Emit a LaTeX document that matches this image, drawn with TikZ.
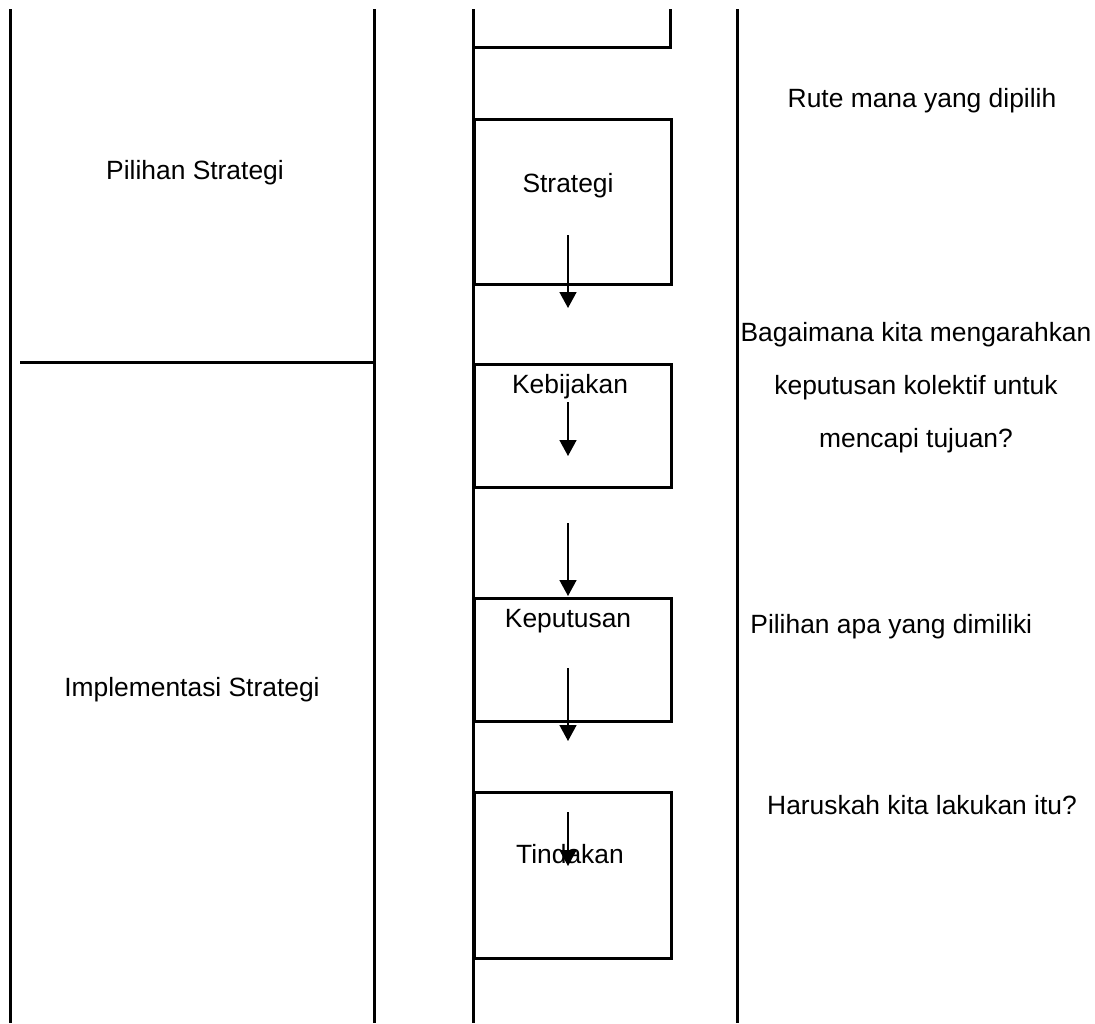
\documentclass[tikz,border=0pt]{standalone}
\usepackage{fontspec}
\setmainfont{Liberation Sans}
\usetikzlibrary{arrows.meta,positioning}
\tikzset{
  lane/.style={line width=1.5pt},
  stepbox/.style={draw,line width=1.5pt,rectangle,inner sep=0pt,anchor=north west,minimum width=98.5pt},
  flow/.style={line width=0.75pt,-{Triangle[width=8.5pt,length=8pt]}},
  txt/.style={font=\fontsize{13.2}{26.5}\selectfont,inner sep=0pt,anchor=base}
}
\begin{document}
\begin{tikzpicture}[x=0.5pt,y=-0.5pt]
        \useasboundingbox (0,0) rectangle (1095,1023);
        \coordinate (t1) at (10,9);
        \coordinate (t2) at (374,9);
        \coordinate (t3) at (473,9);
        \coordinate (t4) at (737,9);
        \coordinate (b1) at (10,1023);
        \coordinate (b2) at (374,1023);
        \coordinate (b3) at (473,1023);
        \coordinate (b4) at (737,1023);
        \coordinate (h1) at (20,362);
        \coordinate (h2) at (374,362);
        %Lanes
        \draw[lane] (t1) -- (b1);
        \draw[lane] (t2) -- (b2);
        \draw[lane] (t3) -- (b3);
        \draw[lane] (t4) -- (b4);
        \draw[lane] (h1) -- (h2);
        \draw[lane] (473,47) -- (670,47) -- (670,9);
        %Boxes
        \node[stepbox,minimum height=82.5pt] (strategi) at (473,118) {};
        \node[stepbox,minimum height=61.5pt] (kebijakan) at (473,363) {};
        \node[stepbox,minimum height=61.5pt] (keputusan) at (473,597) {};
        \node[stepbox,minimum height=83pt] (tindakan) at (473,791) {};
        %Box texts
        \node[txt] (lstrategi) at (568,192) {Strategi};
        \node[txt] (lkebijakan) at (570,393) {Kebijakan};
        \node[txt] (lkeputusan) at (568,627) {Keputusan};
        \node[txt] (ltindakan) at (570,863) {Tindakan};
        %Arrows
        \coordinate (a1) at (568,235);
        \coordinate (a2) at (568,308);
        \coordinate (a3) at (568,402);
        \coordinate (a4) at (568,456);
        \coordinate (a5) at (568,523);
        \coordinate (a6) at (568,596);
        \coordinate (a7) at (568,668);
        \coordinate (a8) at (568,741);
        \coordinate (a9) at (568,812);
        \coordinate (a10) at (568,866);
        \draw[flow] (a1) -- (a2);
        \draw[flow] (a3) -- (a4);
        \draw[flow] (a5) -- (a6);
        \draw[flow] (a7) -- (a8);
        \draw[flow] (a9) -- (a10);
        %Stages
        \node[txt] (pilihan) at (195,179) {Pilihan Strategi};
        \node[txt] (implementasi) at (192,696) {Implementasi Strategi};
        %Questions
        \node[txt] (rute) at (922,107) {Rute mana yang dipilih};
        \node[txt,align=center] (bagaimana) at (916,447) {Bagaimana kita mengarahkan\\keputusan kolektif untuk\\mencapi tujuan?};
        \node[txt,anchor=base west] (apa) at (750,633) {Pilihan apa yang dimiliki};
        \node[txt] (haruskah) at (922,814) {Haruskah kita lakukan itu?};
\end{tikzpicture}
\end{document}
